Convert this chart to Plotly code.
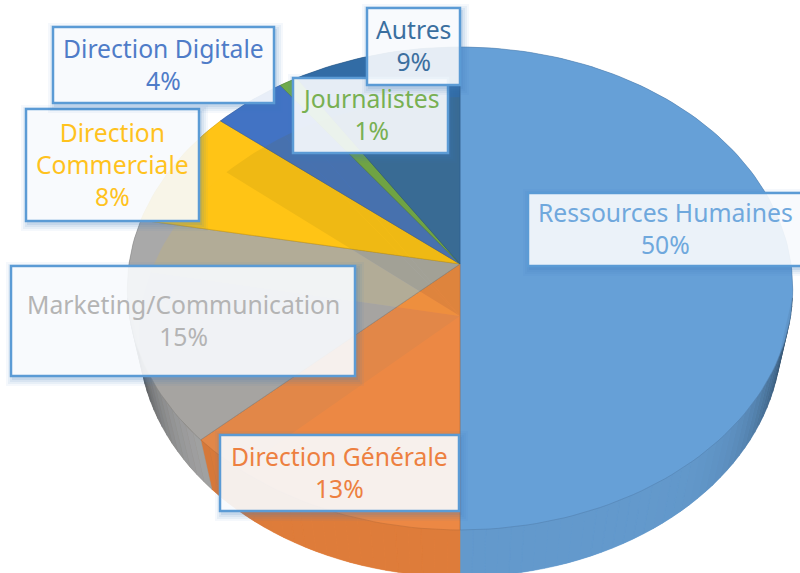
import math
import plotly.graph_objects as go

labels = ["Ressources Humaines", "Direction Générale", "Marketing/Communication",
          "Direction Commerciale", "Direction Digitale", "Journalistes", "Autres"]
values = [50, 13, 15, 8, 4, 1, 9]
top_colors = ["#66A0D7", "#EC8845", "#A8A8A8", "#FFC316", "#4273C4", "#6FAB4C", "#326CA6"]
under_colors = ["#66A0D7", "#EC8845", "#8E7E62", "#FFC310", "#6E6400", "#6E6400", "#6E6400"]
far_colors = ["#66A0D7", "#EC8845", "#A8A8A8", "#FFC316", "#4273C4", "#6FAB4C", "#336A9A"]
wall_colors = ["#6399CC", "#DE7C3A", "#A8A8A8", "#F0B818", "#4472C0", "#6CA84A", "#336A9A"]
text_colors = ["#6FA8DD", "#ED8040", "#B4B4B4", "#FFC21E", "#4F7CC8", "#78B052", "#3B6F9F"]
display = ["Ressources Humaines", "Direction Générale", "Marketing/Communication",
           "Direction<br>Commerciale", "Direction Digitale", "Journalistes", "Autres"]
# label boxes: x0, x1, y0, y1
boxes = [(528, 806, 193, 266), (220, 459, 435, 511), (11, 355, 266, 376),
         (26, 199, 109, 221), (53, 274, 27, 103), (293, 448, 78, 153), (367, 460, 8, 85)]
text_x = [665, 339, 183, 112.5, 163.5, 370.5, 413.5]

CX = 460
TOP = dict(a=331, b=239, cy=264, k=0.1014)
BOT = dict(a=320, b=238, cy=316, k=0.0875)
ALPHA = 0.89
DEPTH_START, DEPTH_END = 98, 262


def rim(theta_deg, f):
    t = math.radians(theta_deg)
    u, v = math.sin(t), math.cos(t)
    d = 1 + f["k"] * v
    return CX + f["a"] * u / d, f["cy"] - f["b"] * v / d


def rgb(h):
    return tuple(int(h[i:i + 2], 16) for i in (1, 3, 5))


def mix(h, other, w):
    a, b = rgb(h), rgb(other)
    return tuple(round(a[i] * (1 - w) + b[i] * w) for i in range(3))


def css(c, alpha=1):
    return f"rgba({c[0]},{c[1]},{c[2]},{alpha})"


total = sum(values)
spans = []
acc = 0
for val in values:
    spans.append((acc / total * 360, (acc + val) / total * 360))
    acc += val


def slice_trace(i, f, fill, line, width):
    a0, a1 = spans[i]
    n = max(3, int((a1 - a0) / 1.5))
    pts = [rim(a0 + (a1 - a0) * j / n, f) for j in range(n + 1)]
    apex = (CX, f["cy"])
    xs = [apex[0]] + [p[0] for p in pts] + [apex[0]]
    ys = [apex[1]] + [p[1] for p in pts] + [apex[1]]
    return go.Scatter(x=xs, y=ys, mode="lines", fill="toself", fillcolor=fill,
                      line=dict(color=line, width=width), hoverinfo="skip",
                      showlegend=False, name=labels[i])


fig = go.Figure()

# opaque layer under the far rim, so the translucent top keeps its colour there
for i, c in enumerate(far_colors):
    fig.add_trace(slice_trace(i, TOP, css(rgb(c)), "rgba(0,0,0,0)", 0))

# base face seen through the translucent top
for i, c in enumerate(under_colors):
    fig.add_trace(slice_trace(i, BOT, css(rgb(c)), "rgba(0,0,0,0)", 0))

# side wall
for i, c in enumerate(wall_colors):
    a0, a1 = max(spans[i][0], DEPTH_START), min(spans[i][1], DEPTH_END)
    if a1 <= a0:
        continue
    n = max(1, int((a1 - a0) / 2))
    for j in range(n):
        t0 = a0 + (a1 - a0) * j / n
        t1 = a0 + (a1 - a0) * (j + 1) / n
        s = abs(math.sin(math.radians((t0 + t1) / 2)))
        dark = min(0.78, 0.75 * s ** 9)
        col = css(mix(c, "#101820", dark))
        p = [rim(t0, TOP), rim(t1, TOP), rim(t1, BOT), rim(t0, BOT)]
        fig.add_trace(go.Scatter(x=[q[0] for q in p] + [p[0][0]], y=[q[1] for q in p] + [p[0][1]],
                                 mode="lines", fill="toself", fillcolor=col,
                                 line=dict(color=col, width=0.5), hoverinfo="skip", showlegend=False))

# translucent top face
for i, c in enumerate(top_colors):
    fig.add_trace(slice_trace(i, TOP, css(rgb(c), ALPHA), css(mix(c, "#000000", 0.2), 0.8), 0.7))

shapes = []
annotations = []
for i, (x0, x1, y0, y1) in enumerate(boxes):
    for grow, op in ((7, 0.05), (5, 0.07), (3, 0.09), (1, 0.12)):
        shapes.append(dict(type="rect", xref="x", yref="y", layer="above",
                           x0=x0 - grow + 2, x1=x1 + grow + 2, y0=y0 - grow + 3, y1=y1 + grow + 3,
                           fillcolor="#3F7FBF", opacity=op, line=dict(width=0)))
    shapes.append(dict(type="rect", xref="x", yref="y", layer="above", x0=x0, x1=x1, y0=y0, y1=y1,
                       fillcolor="rgba(255,255,255,0.88)", line=dict(color="#5B9BD5", width=2.5)))
    annotations.append(dict(x=text_x[i], y=(y0 + y1) / 2 - 1, xref="x", yref="y", showarrow=False,
                            text=f"{display[i]}<br>{values[i]}%", align="center",
                            font=dict(family="Noto Sans", size=24.7, color=text_colors[i])))

fig.update_layout(width=800, height=573, margin=dict(l=0, r=0, t=0, b=0),
                  paper_bgcolor="white", plot_bgcolor="white", showlegend=False,
                  xaxis=dict(range=[0, 800], visible=False, fixedrange=True),
                  yaxis=dict(range=[573, 0], visible=False, fixedrange=True),
                  shapes=shapes, annotations=annotations)
fig.write_html("out.html", config={"displayModeBar": False},
               post_script="document.body.style.margin='0';document.body.style.overflow='hidden';")
